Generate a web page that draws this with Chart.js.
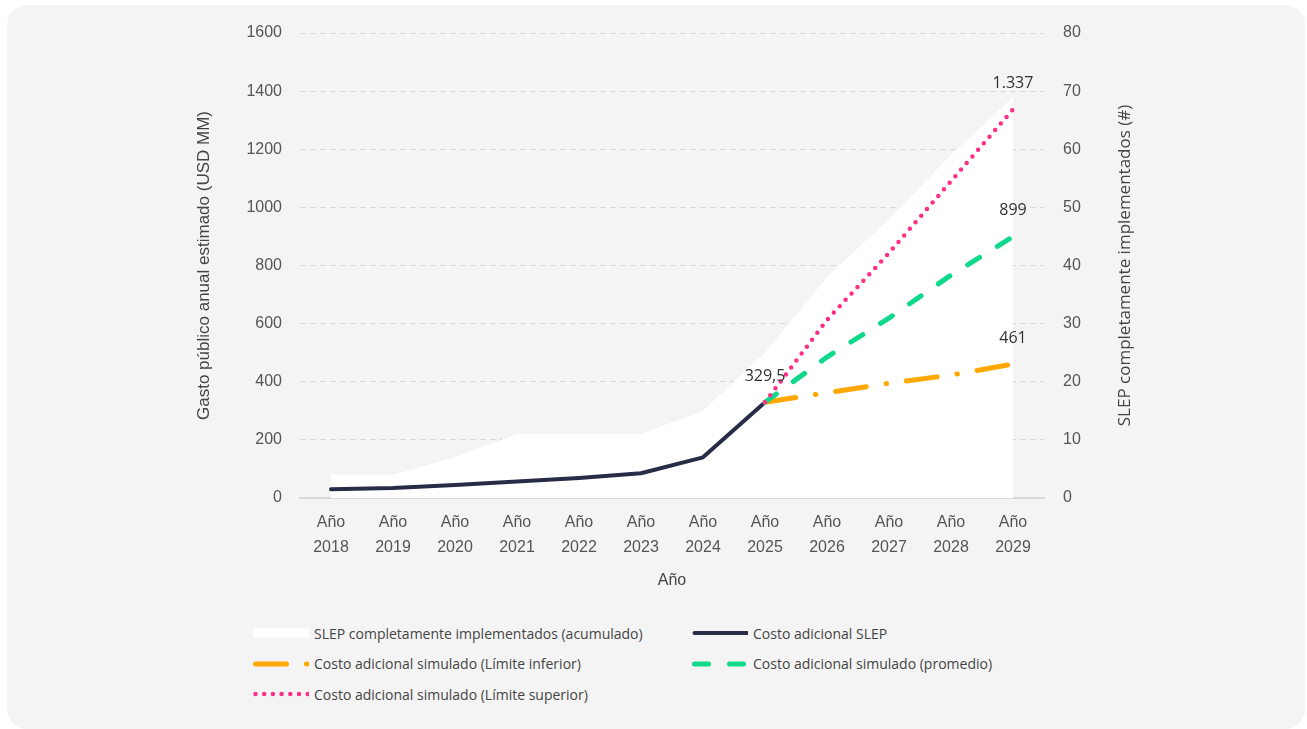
<!DOCTYPE html>
<html>
<head>
<meta charset="utf-8">
<script src="https://cdn.jsdelivr.net/npm/chart.js@4"></script>
<style>
html,body{margin:0;padding:0;background:#ffffff;width:1307px;height:729px;overflow:hidden;font-family:"Open Sans",sans-serif;}
#card{position:absolute;left:7px;top:5px;width:1298px;height:724px;background:#f4f4f4;border-radius:20px;}
#wrap{position:absolute;left:0;top:0;width:1307px;height:610px;}
#legend{position:absolute;left:253px;top:618px;display:grid;grid-template-columns:439px auto;grid-auto-rows:30.5px;}
.item{display:flex;align-items:center;font-size:14px;color:#444;white-space:nowrap;}
.item svg{margin-right:5px;flex:none;}
</style>
</head>
<body>
<div id="card"></div>
<div id="wrap"><canvas id="c" width="1307" height="610"></canvas></div>
<div id="legend"></div>
<script>
// ---- data ----
const years = ['2018','2019','2020','2021','2022','2023','2024','2025','2026','2027','2028','2029'];
const xTickLabels = years.map(y => ['Año', y]);
const slepImplementados = [4, 4, 7, 11, 11, 11, 15, 25, 38, 48, 59, 69];
const costoSLEP = [30, 34, 45, 57, 69, 85, 140, 329.5, null, null, null, null];
const costoInferior = [null, null, null, null, null, null, null, 329.5, 362, 395, 423, 461];
const costoPromedio = [null, null, null, null, null, null, null, 329.5, 485, 619, 767, 899];
const costoSuperior = [null, null, null, null, null, null, null, 329.5, 613, 843, 1090, 1337];
const leftTicks = [0, 200, 400, 600, 800, 1000, 1200, 1400, 1600];
const rightTicks = [0, 10, 20, 30, 40, 50, 60, 70, 80];
const rightTitle = 'SLEP completamente implementados (#)';

function fmt(v){
  const neg = v < 0; v = Math.abs(v);
  let [i, d] = String(v).split('.');
  i = i.replace(/\B(?=(\d{3})+(?!\d))/g, '.');
  return (neg ? '-' : '') + i + (d ? ',' + d : '');
}

const valueLabels = {
  id: 'valueLabels',
  afterDatasetsDraw(chart){
    const ctx = chart.ctx;
    ctx.save();
    ctx.font = '16px "Open Sans", sans-serif';
    ctx.fillStyle = '#333';
    ctx.textAlign = 'center';
    ctx.textBaseline = 'middle';
    chart.data.datasets.forEach((ds, di) => {
      if (!ds.valueLabel) return;
      const meta = chart.getDatasetMeta(di);
      let last = -1;
      ds.data.forEach((v, i) => { if (v !== null) last = i; });
      if (last < 0) return;
      const p = meta.data[last];
      ctx.fillText(fmt(ds.data[last]), p.x, p.y - 26);
    });
    ctx.restore();
  }
};

// right-axis title reading bottom-to-top, like the left one
const rightAxisTitle = {
  id: 'rightAxisTitle',
  afterDraw(chart){
    const s = chart.scales.y1;
    const ctx = chart.ctx;
    ctx.save();
    ctx.font = '17px "Open Sans", sans-serif';
    ctx.fillStyle = '#444';
    ctx.textAlign = 'center';
    ctx.textBaseline = 'middle';
    ctx.translate(s.right - 14, (s.top + s.bottom) / 2);
    ctx.rotate(-Math.PI / 2);
    ctx.fillText(rightTitle, 0, 0);
    ctx.restore();
  }
};

const chart = new Chart(document.getElementById('c'), {
  type: 'line',
  data: {
    labels: xTickLabels,
    datasets: [
      { label: 'SLEP completamente implementados (acumulado)', data: slepImplementados, yAxisID: 'y1',
        fill: 'origin', backgroundColor: '#ffffff', borderColor: 'rgba(0,0,0,0)', borderWidth: 0, order: 10, swatch: 'box' },
      { label: 'Costo adicional SLEP', data: costoSLEP, yAxisID: 'y', borderColor: '#292c47', borderWidth: 4,
        borderCapStyle: 'round', borderJoinStyle: 'round', valueLabel: true, order: 4 },
      { label: 'Costo adicional simulado (Límite inferior)', data: costoInferior, yAxisID: 'y', borderColor: '#ffa800',
        borderWidth: 5, borderDash: [31, 20, 0.5, 20], borderCapStyle: 'round', valueLabel: true, order: 3 },
      { label: 'Costo adicional simulado (promedio)', data: costoPromedio, yAxisID: 'y', borderColor: '#10d98b',
        borderWidth: 5, borderDash: [14, 21], borderCapStyle: 'round', valueLabel: true, order: 2 },
      { label: 'Costo adicional simulado (Límite superior)', data: costoSuperior, yAxisID: 'y', borderColor: '#ff2f88',
        borderWidth: 4.5, borderDash: [0, 8.7], borderCapStyle: 'round', valueLabel: true, order: 1 }
    ]
  },
  options: {
    responsive: false,
    animation: false,
    layout: { padding: { left: 190, right: 168, top: 33, bottom: 0 } },
    elements: { point: { radius: 0, hoverRadius: 0 }, line: { tension: 0 } },
    plugins: { legend: { display: false }, tooltip: { enabled: false } },
    scales: {
      x: {
        offset: true,
        grid: { display: false, drawTicks: false },
        border: { display: true, color: '#dadada', width: 2 },
        ticks: { color: '#555', font: { size: 16, lineHeight: 1.56 }, padding: 12.5, maxRotation: 0, autoSkip: false },
        title: { display: true, text: 'Año', color: '#444', font: { size: 16 }, padding: { top: 4, bottom: 19.5 } },
        afterFit(s){ s.height = 112; }
      },
      y: {
        position: 'left', min: 0, max: 1600,
        afterBuildTicks(s){ s.ticks = leftTicks.map(v => ({ value: v })); },
        grid: { color: '#d9d9d9', lineWidth: 1, drawTicks: false },
        border: { display: false, dash: [6, 4] },
        ticks: { color: '#555', font: { size: 16 }, padding: 18, callback: v => String(v) },
        title: { display: true, text: 'Gasto público anual estimado (USD MM)', color: '#444', font: { size: 17 }, padding: { top: 4.5, bottom: 0 } },
        afterFit(s){ s.width = 110; }
      },
      y1: {
        position: 'right', min: 0, max: 80,
        afterBuildTicks(s){ s.ticks = rightTicks.map(v => ({ value: v })); },
        grid: { display: false, drawTicks: false },
        border: { display: false },
        ticks: { color: '#555', font: { size: 16 }, padding: 19, callback: v => String(v) },
        title: { display: false },
        afterFit(s){ s.width = 95; }
      }
    }
  },
  plugins: [valueLabels, rightAxisTitle]
});

// ---- HTML legend built from datasets ----
const legendOrder = [0, 1, 2, 3, 4];
const leg = document.getElementById('legend');
const NS = 'http://www.w3.org/2000/svg';
legendOrder.forEach(i => {
  const ds = chart.data.datasets[i];
  const item = document.createElement('div');
  item.className = 'item';
  const svg = document.createElementNS(NS, 'svg');
  svg.setAttribute('width', '56'); svg.setAttribute('height', '12');
  if (ds.swatch === 'box') {
    const r = document.createElementNS(NS, 'rect');
    r.setAttribute('x', '0'); r.setAttribute('y', '1.5'); r.setAttribute('width', '56'); r.setAttribute('height', '9');
    r.setAttribute('fill', ds.backgroundColor);
    svg.appendChild(r);
  } else {
    const l = document.createElementNS(NS, 'line');
    l.setAttribute('x1', '2.5'); l.setAttribute('x2', '55'); l.setAttribute('y1', '6'); l.setAttribute('y2', '6');
    l.setAttribute('stroke', ds.borderColor);
    l.setAttribute('stroke-width', String(ds.borderWidth));
    l.setAttribute('stroke-linecap', 'round');
    if (ds.borderDash) l.setAttribute('stroke-dasharray', ds.borderDash.join(' '));
    svg.appendChild(l);
  }
  item.appendChild(svg);
  const t = document.createElement('span');
  t.textContent = ds.label;
  item.appendChild(t);
  leg.appendChild(item);
});
</script>
</body>
</html>
